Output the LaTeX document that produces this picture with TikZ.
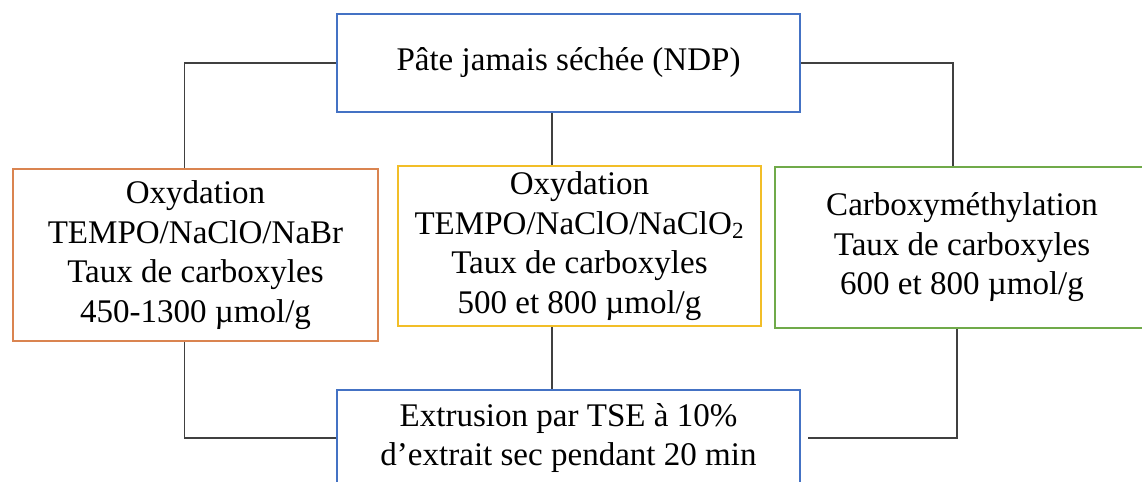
\documentclass[tikz,border=0pt]{standalone}
\usepackage{fontspec}
\setmainfont{Liberation Serif}
\usepackage{xcolor}
\usetikzlibrary{calc}

\definecolor{ndpblue}{RGB}{68,114,196}
\definecolor{oxorange}{RGB}{218,132,80}
\definecolor{oxyellow}{RGB}{242,190,40}
\definecolor{cmgreen}{RGB}{112,170,74}

\begin{document}
\begin{tikzpicture}[
    x=0.02cm, y=-0.02cm,
    stage/.style={draw, line width=1.6pt, align=center, inner sep=0pt,
                  font=\fontsize{18.8}{22.5}\selectfont},
    pulp/.style={stage, draw=ndpblue, minimum width=9.26cm, minimum height=1.96cm},
    treat/.style={stage, minimum height=3.2cm},
    link/.style={draw=black!75, line width=1.1pt},
]
\useasboundingbox (0,0) rectangle (1142,482);

% ── Starting pulp ─────────────────────────────────────
\node[pulp] (ndp) at (568.5,63) {Pâte jamais séchée (NDP)};

% ── Chemical treatments ───────────────────────────────
\node[treat, draw=oxorange, minimum width=7.3cm, minimum height=3.44cm] (oxbr)
    at (195.5,255) {Oxydation\\TEMPO/NaClO/NaBr\\Taux de carboxyles\\450-1300 µmol/g};
\node[treat, draw=oxyellow, minimum width=7.26cm] (oxclo)
    at (579.5,246) {Oxydation\\TEMPO/NaClO/NaClO\textsubscript{2}\\Taux de carboxyles\\500 et 800 µmol/g};
\node[treat, draw=cmgreen, minimum width=7.48cm, minimum height=3.22cm] (cmc)
    at (962,247.5) {Carboxyméthylation\\Taux de carboxyles\\600 et 800 µmol/g};

% ── Extrusion ─────────────────────────────────────────
\node[pulp, minimum height=1.92cm] (tse)
    at (568.5,438) {Extrusion par TSE à 10\%\\d’extrait sec pendant 20 min};

% ── Attachment points on the treatment boxes ─────────
\coordinate (oxbrN)  at ($(oxbr.north west)!0.47!(oxbr.north east)$);
\coordinate (oxbrS)  at ($(oxbr.south west)!0.47!(oxbr.south east)$);
\coordinate (oxcloN) at ($(oxclo.north west)!0.425!(oxclo.north east)$);
\coordinate (oxcloS) at ($(oxclo.south west)!0.425!(oxclo.south east)$);
\coordinate (cmcN)   at ($(cmc.north west)!0.476!(cmc.north east)$);
\coordinate (cmcS)   at ($(cmc.south west)!0.487!(cmc.south east)$);

% ── Pulp → treatments ────────────────────────────────
\draw[link] (ndp.west) -| (oxbrN);
\draw[link] (oxcloN |- ndp.south) -- (oxcloN);
\draw[link] (ndp.east) -| (cmcN);

% ── Treatments → extrusion ───────────────────────────
\draw[link] (oxbrS) |- (tse.west);
\draw[link] (oxcloS) -- (oxcloS |- tse.north);
\draw[link] (cmcS) |- ([xshift=0.14cm]tse.east);

\end{tikzpicture}
\end{document}
